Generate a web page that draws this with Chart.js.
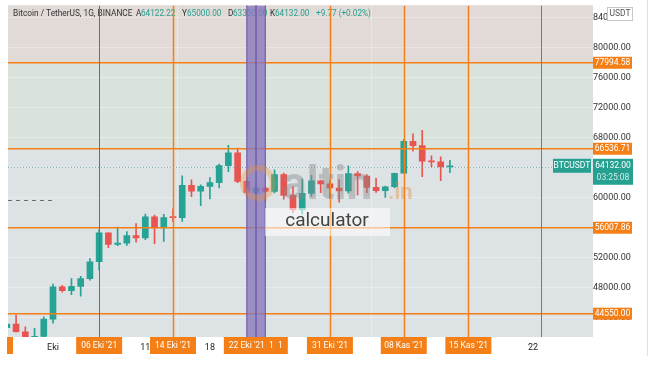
<!DOCTYPE html>
<html>
<head>
<meta charset="utf-8">
<script src="https://cdn.jsdelivr.net/npm/chart.js@4.4.0/dist/chart.umd.min.js"></script>
<style>
  html, body { margin: 0; padding: 0; background: #fff; }
  #myChart { display: block; }
</style>
</head>
<body>
<canvas id="myChart" width="654" height="366"></canvas>
<script>
// daily candles BTC/USDT (Binance), 26 Sep - 13 Nov 2021
var dates = ['2021-09-26','2021-09-27','2021-09-28','2021-09-29','2021-09-30',
  '2021-10-01','2021-10-02','2021-10-03','2021-10-04','2021-10-05','2021-10-06','2021-10-07',
  '2021-10-08','2021-10-09','2021-10-10','2021-10-11','2021-10-12','2021-10-13','2021-10-14',
  '2021-10-15','2021-10-16','2021-10-17','2021-10-18','2021-10-19','2021-10-20','2021-10-21',
  '2021-10-22','2021-10-23','2021-10-24','2021-10-25','2021-10-26','2021-10-27','2021-10-28',
  '2021-10-29','2021-10-30','2021-10-31','2021-11-01','2021-11-02','2021-11-03','2021-11-04',
  '2021-11-05','2021-11-06','2021-11-07','2021-11-08','2021-11-09','2021-11-10','2021-11-11',
  '2021-11-12','2021-11-13'];
var opens = [42670, 43160, 42147, 41025, 41524,
  43820, 48141, 47634, 48200, 49224, 51471, 55315,
  53785, 53955, 54949, 54659, 57471, 55996, 57370,
  57347, 61672, 60875, 61528, 62005, 64280, 66001,
  62193, 60688, 61286, 60852, 63078, 60328, 58413,
  60575, 62253, 61859, 61299, 60911, 63220, 62896,
  61395, 60940, 61470, 63273, 67525, 66947, 64882,
  64774, 64122];
var highs = [43950, 44350, 42787, 42590, 44141,
  48495, 48336, 49228, 49536, 51886, 55750, 55332,
  56100, 55489, 56561, 57839, 57680, 57777, 58532,
  62933, 62378, 61718, 62695, 64486, 67000, 66639,
  63732, 61747, 61500, 63710, 63293, 61496, 62499,
  62980, 62359, 62405, 62437, 64270, 63500, 63086,
  62595, 61560, 63286, 67789, 68524, 69000, 65600,
  65450, 65000];
var lows = [40750, 42098, 40888, 40753, 41410,
  43283, 47430, 47088, 46891, 49022, 50382, 53357,
  53617, 53661, 54080, 54415, 53879, 54167, 56818,
  56850, 60150, 58963, 59844, 61322, 63481, 62000,
  60000, 59562, 59510, 60650, 59817, 58000, 57820,
  60174, 60673, 59945, 59405, 60624, 60382, 60677,
  60721, 60050, 61322, 63273, 66222, 62822, 64100,
  62278, 63360];
var closes = [43160, 42147, 41026, 41524, 43824,
  48141, 47634, 48200, 49224, 51471, 55315, 53785,
  53951, 54949, 54659, 57471, 55996, 57367, 57347,
  61672, 60875, 61528, 62009, 64280, 66001, 62193,
  60688, 61286, 60852, 63078, 60328, 58413, 60575,
  62253, 61859, 61299, 60911, 63219, 62896, 61395,
  60937, 61470, 63273, 67525, 66947, 64882, 64774,
  64122, 64132];

var priceTicks = [44000, 48000, 52000, 56000, 60000, 64000, 68000, 72000, 76000, 80000, 84000];
var tickDays = [0, 10, 17, 52];
var tickLabels = ['Eki', '11', '18', '22'];
var markerDays = [5, 13, 21, 30, 38, 45];
var markerLabels = ["06 Eki '21", "14 Eki '21", "22 Eki '21  1  1", "31 Eki '21", "08 Kas '21", "15 Kas '21"];
var levels = [77994.58, 66536.71, 56007.86, 44550.00];
var lastPrice = 64132.00;
var bandDays = [[21, 22], [22, 23]];

var UP = 'rgb(38,163,148)';
var DOWN = 'rgb(232,85,80)';
var ORANGE = 'rgb(245,127,23)';
var TEAL = 'rgb(38,160,145)';

function dayOf(s) {
  return Math.round((Date.parse(s) - Date.parse('2021-10-01')) / 86400000);
}

var bodyData = [], wickData = [], candleColors = [];
for (var i = 0; i < dates.length; i++) {
  var d = dayOf(dates[i]);
  bodyData.push({ x: d, y: [opens[i], closes[i]] });
  wickData.push({ x: d, y: [lows[i], highs[i]] });
  candleColors.push(closes[i] >= opens[i] ? UP : DOWN);
}

function box(c, x, y, w, h, fill) {
  c.fillStyle = fill;
  c.fillRect(x, y, w, h);
}

var overlay = {
  id: 'overlay',
  beforeDraw: function (chart) {
    var c = chart.ctx, a = chart.chartArea, ys = chart.scales.y;
    var w = a.right - a.left;
    c.save();
    box(c, 0, 0, chart.width, chart.height, '#fff');
    box(c, a.left, a.top, w, a.bottom - a.top, 'rgb(221,226,229)');
    var y1 = ys.getPixelForValue(levels[0]), y2 = ys.getPixelForValue(levels[1]);
    box(c, a.left, a.top, w, y1 - a.top, 'rgb(225,218,215)');
    box(c, a.left, y1, w, y2 - y1, 'rgb(218,227,219)');
    c.restore();
  },
  afterDatasetsDraw: function (chart) {
    var c = chart.ctx, a = chart.chartArea, xs = chart.scales.x, ys = chart.scales.y;
    c.save();
    c.beginPath();
    c.rect(a.left, a.top, a.right - a.left, a.bottom - a.top);
    c.clip();

    // current price dotted line
    var py = Math.round(ys.getPixelForValue(lastPrice)) + 0.5;
    c.strokeStyle = 'rgba(90,150,150,0.7)';
    c.lineWidth = 1;
    c.setLineDash([1, 2]);
    c.beginPath(); c.moveTo(a.left, py); c.lineTo(a.right, py); c.stroke();

    // short dashed drawing on the left
    var dy = Math.round(ys.getPixelForValue(59700)) + 0.5;
    c.strokeStyle = 'rgb(110,110,110)';
    c.setLineDash([4, 4]);
    c.beginPath(); c.moveTo(a.left, dy); c.lineTo(xs.getPixelForValue(0.2), dy); c.stroke();
    c.setLineDash([]);

    // header legend
    c.textBaseline = 'middle';
    c.textAlign = 'left';
    c.font = '8.3px Roboto';
    c.fillStyle = '#333';
    c.fillText('Bitcoin / TetherUS, 1G, BINANCE', 13, 14);
    c.font = '8.2px Roboto';
    var head = [
      [136, 'A', '#333'], [141, '64122.22', TEAL],
      [182, 'Y', '#333'], [187, '65000.00', TEAL],
      [228, 'D', '#333'], [233, '63360.00', TEAL],
      [270, 'K', '#333'], [275, '64132.00', TEAL],
      [316, '+9.77 (+0.02%)', TEAL]
    ];
    head.forEach(function (h) { c.fillStyle = h[2]; c.fillText(h[1], h[0], 14); });

    // horizontal levels
    c.strokeStyle = ORANGE;
    c.lineWidth = 1.5;
    levels.forEach(function (v) {
      var y = ys.getPixelForValue(v);
      c.beginPath(); c.moveTo(a.left, y); c.lineTo(a.right, y); c.stroke();
    });

    // vertical markers
    markerDays.forEach(function (d, k) {
      if (k === 2) return;
      var x = Math.round(xs.getPixelForValue(d)) + 0.5;
      c.strokeStyle = k === 0 ? 'rgb(110,110,110)' : ORANGE;
      c.lineWidth = k === 0 ? 1 : 1.5;
      c.beginPath(); c.moveTo(x, a.top); c.lineTo(x, a.bottom); c.stroke();
    });
    var bx = Math.round(xs.getPixelForValue(52.85)) + 0.5;
    c.strokeStyle = 'rgb(60,130,235)';
    c.lineWidth = 1;
    c.beginPath(); c.moveTo(bx, a.top); c.lineTo(bx, a.bottom); c.stroke();

    // purple bands
    bandDays.forEach(function (b) {
      var x0 = xs.getPixelForValue(b[0]), x1 = xs.getPixelForValue(b[1]);
      c.fillStyle = 'rgba(135,118,188,0.78)';
      c.fillRect(x0, a.top, x1 - x0, a.bottom - a.top);
      c.strokeStyle = 'rgb(115,95,172)';
      c.lineWidth = 1.2;
      c.strokeRect(x0, a.top - 2, x1 - x0, a.bottom - a.top + 4);
    });

    // watermark
    c.beginPath();
    c.arc(258, 183, 15, 0, Math.PI * 2);
    c.lineWidth = 6;
    c.strokeStyle = 'rgba(235,150,60,0.35)';
    c.stroke();
    c.font = 'bold 46px Roboto';
    c.textBaseline = 'alphabetic';
    c.fillStyle = 'rgba(135,135,135,0.42)';
    c.fillText('altin', 282, 199);
    c.font = 'bold 22px Roboto';
    c.fillStyle = 'rgba(225,140,60,0.4)';
    c.fillText('.in', 388, 199);
    box(c, 265, 208, 125, 28, 'rgba(255,255,255,0.55)');
    c.font = '19px Roboto';
    c.fillStyle = '#444';
    c.textAlign = 'center';
    c.textBaseline = 'middle';
    c.fillText('calculator', 327, 221);
    c.restore();
  },
  afterDraw: function (chart) {
    var c = chart.ctx, a = chart.chartArea, xs = chart.scales.x, ys = chart.scales.y;
    c.save();
    c.textAlign = 'center';
    c.textBaseline = 'middle';
    c.font = '8.5px Roboto';

    // time axis marker labels
    box(c, 7, a.bottom, 6, 17, ORANGE);
    markerDays.forEach(function (d, k) {
      var x = xs.getPixelForValue(d);
      var w = k === 2 ? 64 : 46;
      var x0 = k === 2 ? x - 23 : x - w / 2;
      box(c, x0, a.bottom, w, 17, ORANGE);
      c.fillStyle = '#fff';
      c.fillText(markerLabels[k], x0 + w / 2, a.bottom + 9);
    });

    // price axis level labels
    var px = a.right;
    levels.forEach(function (v) {
      var y = ys.getPixelForValue(v);
      box(c, px, y - 6, 39, 12, ORANGE);
      c.fillStyle = '#fff';
      c.fillText(v.toFixed(2), px + 19.5, y);
    });

    // last price labels
    var ly = ys.getPixelForValue(lastPrice);
    box(c, 553, ly - 8, 38, 14, TEAL);
    box(c, px, ly - 8, 40, 26, TEAL);
    c.fillStyle = '#fff';
    c.fillText('BTCUSDT', 572, ly - 1);
    c.fillText(lastPrice.toFixed(2), px + 20, ly - 1);
    c.fillStyle = 'rgba(255,255,255,0.8)';
    c.fillText('03:25:08', px + 20, ly + 11);

    // currency button
    c.fillStyle = '#fff';
    c.fillRect(607, 7, 26, 14);
    c.strokeStyle = 'rgb(200,200,200)';
    c.lineWidth = 1;
    c.strokeRect(607.5, 7.5, 25, 13);
    c.fillStyle = '#555';
    c.fillText('USDT', 620, 14);

    // right border of the price scale
    c.strokeStyle = 'rgb(225,225,225)';
    c.beginPath(); c.moveTo(647.5, 0); c.lineTo(647.5, 356); c.stroke();
    c.restore();
  }
};

function onSight() {
  var ctx = document.getElementById('myChart').getContext('2d');

  var myChart = new Chart(ctx, {
    type: 'bar',
    data: {
      datasets: [{
        data: bodyData,
        backgroundColor: candleColors,
        barThickness: 6,
        minBarLength: 1,
        grouped: false,
        order: 1
      }, {
        data: wickData,
        backgroundColor: candleColors,
        barThickness: 1,
        grouped: false,
        order: 2
      }]
    },
    plugins: [overlay],
    options: {
      responsive: false,
      animation: false,
      layout: { padding: { left: 8, top: 0, right: 7, bottom: 0 } },
      plugins: {
        legend: { display: false },
        tooltip: { enabled: false },
        title: { display: false }
      },
      scales: {
        x: {
          type: 'linear',
          min: -4.875,
          max: 58.5,
          offset: false,
          afterFit: function (s) { s.height = 29; },
          afterBuildTicks: function (s) { s.ticks = tickDays.map(function (v) { return { value: v }; }); },
          ticks: {
            autoSkip: false,
            maxRotation: 0,
            padding: 5,
            color: '#222',
            font: { family: 'Roboto', size: 9 },
            callback: function (v) { return tickLabels[tickDays.indexOf(v)]; }
          },
          grid: { color: 'rgba(255,255,255,0.3)', drawTicks: false },
          border: { display: false }
        },
        y: {
          position: 'right',
          min: 41443,
          max: 85639,
          afterFit: function (s) { s.width = 54; },
          afterBuildTicks: function (s) { s.ticks = priceTicks.map(function (v) { return { value: v }; }); },
          ticks: {
            padding: 0,
            crossAlign: 'center',
            color: '#333',
            font: { family: 'Roboto', size: 9 },
            callback: function (v) { return v.toFixed(2); }
          },
          grid: { color: 'rgba(255,255,255,0.3)', drawTicks: false },
          border: { display: false }
        }
      }
    }
  });
}

document.addEventListener('DOMContentLoaded', onSight);
</script>
</body>
</html>
